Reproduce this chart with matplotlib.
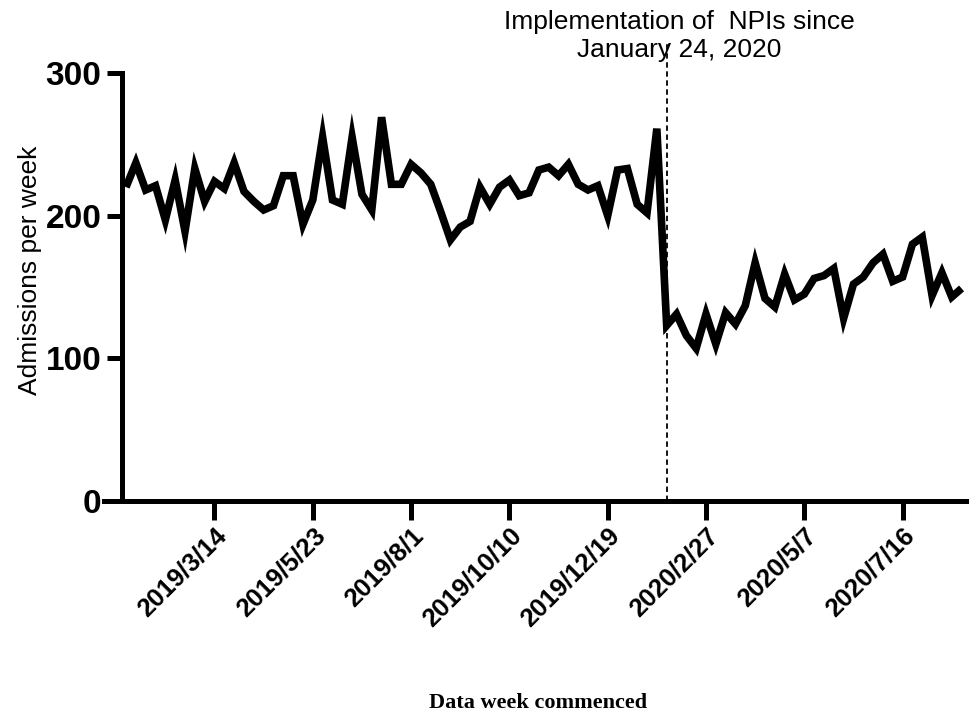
import matplotlib
matplotlib.use("Agg")
import matplotlib.pyplot as plt
import pandas as pd

# weekly admissions, weeks commencing 2019/1/10 .. 2020/8/27
start_week = "2019-01-10"
admissions = [
    220, 237, 218, 221, 197, 225, 189, 233, 210, 224,
    219, 237, 217, 210, 204, 207, 228, 228, 194, 211,
    255, 211, 208, 255, 215, 204, 269, 222, 222, 236,
    230, 222, 203, 183, 192, 196, 220, 208, 220, 225,
    214, 216, 232, 234, 228, 236, 222, 218, 221, 200,
    232, 233, 208, 202, 261, 123, 131, 116, 107, 131,
    110, 132, 124, 137, 167, 142, 136, 159, 141, 145,
    156, 158, 163, 128, 152, 157, 167, 173, 154, 157,
    180, 185, 144, 160, 143, 149,
]
tick_every = 10
first_tick = 9
npi_week = 55
npi_text = "Implementation of  NPIs since\nJanuary 24, 2020"
y_ticks = [0, 100, 200, 300]

dates = pd.date_range(start_week, periods=len(admissions), freq="7D")
weeks = list(range(len(admissions)))
tick_pos = weeks[first_tick::tick_every]
tick_labels = [f"{d.year}/{d.month}/{d.day}" for d in dates[first_tick::tick_every]]

plt.rcParams["font.family"] = ["Liberation Sans", "DejaVu Sans"]

fig = plt.figure(figsize=(9.72, 7.15), dpi=100)
ax = fig.add_axes([104 / 972, 1 - 501 / 715, (966 - 104) / 972, (501 - 73) / 715])

# spine placement first: set_position resets the tick setup
for s in ["top", "right"]:
    ax.spines[s].set_visible(False)
for s in ["left", "bottom"]:
    ax.spines[s].set_linewidth(3.6)
ax.spines["left"].set_position(("data", -0.4))
ax.spines["left"].set_bounds(0, 300)

ax.plot(weeks, admissions, color="black", lw=5.5, solid_joinstyle="miter",
        solid_capstyle="butt")
ax.axvline(npi_week, ymin=0, ymax=1.072, color="black", lw=1.3,
           linestyle=(0, (3, 2)), clip_on=False)

ax.set_xlim(-2.24, 85.45)
ax.set_ylim(0, 300)
ax.set_yticks(y_ticks)
ax.set_yticklabels([str(v) for v in y_ticks], fontsize=24, fontweight="bold")
ax.set_xticks(tick_pos)
ax.set_xticklabels(tick_labels, rotation=45, ha="right", va="top",
                   rotation_mode="anchor", fontsize=18.5, fontweight="bold")

ax.tick_params(axis="y", length=11, width=3.6, pad=4)
ax.tick_params(axis="x", length=14, width=3.6, pad=2)

fig.text(30 / 972, 1 - 270 / 715, "Admissions per week", rotation=90,
         ha="center", va="center", fontsize=19)
fig.text(538 / 972, 1 - 703 / 715, "Data week commenced", ha="center",
         va="center", fontsize=16, fontweight="bold",
         family=["Liberation Serif", "DejaVu Serif"])
fig.text(679 / 972, 1 - 36 / 715, npi_text, ha="center", va="center",
         fontsize=19, linespacing=1.2)

fig.savefig("out.png", dpi=100)
